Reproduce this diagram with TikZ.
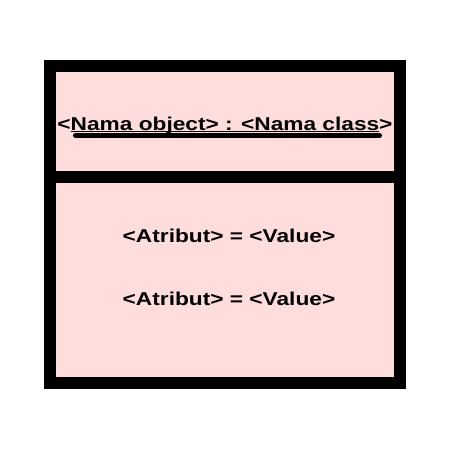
\documentclass[tikz,border=0pt]{standalone}
\usepackage{fontspec}
\setmainfont{Liberation Sans}
\usetikzlibrary{positioning}

\definecolor{objpink}{RGB}{255,221,221}
% wide text and a thin underline close to the baseline
\newcommand{\widetext}[1]{\scalebox{1.22}[1]{#1}}
\newcommand{\thinul}[1]{\setbox0\hbox{#1}\rlap{\rule[-2.2pt]{\wd0}{1.3pt}}\box0}

\begin{document}
\begin{tikzpicture}[
        x=1pt, y=-1pt,
        node distance = 0pt,
        part/.style = {rectangle, draw, fill=objpink, line width=12pt,
                    minimum width=350pt, minimum height=#1,
                    inner sep=0pt, outer sep=0pt},
        label/.style = {anchor=base, inner sep=0pt,
                    font=\bfseries\fontsize{18.6}{22}\selectfont}
                    ]
        \useasboundingbox (0,0) rectangle (450,450);
        \node (head) [part=111pt, anchor=north west] at (50,66) {};
        \node (body) [part=206pt, below=of head] {};
        %
        \node (title) [label] at (225,130) {\widetext{<\thinul{Nama object> : <Nama class}>}};
        \node (attr1) [label] at (229,242) {\widetext{<Atribut> = <Value>}};
        \node (attr2) [label] at (229,305) {\widetext{<Atribut> = <Value>}};
        %
        \coordinate (ul1) at (75.5,135.5);
        \coordinate (ul2) at (379.5,135.5);
        \draw[line width=5pt, line cap=round] (ul1) -- (ul2);
    \end{tikzpicture}
\end{document}
